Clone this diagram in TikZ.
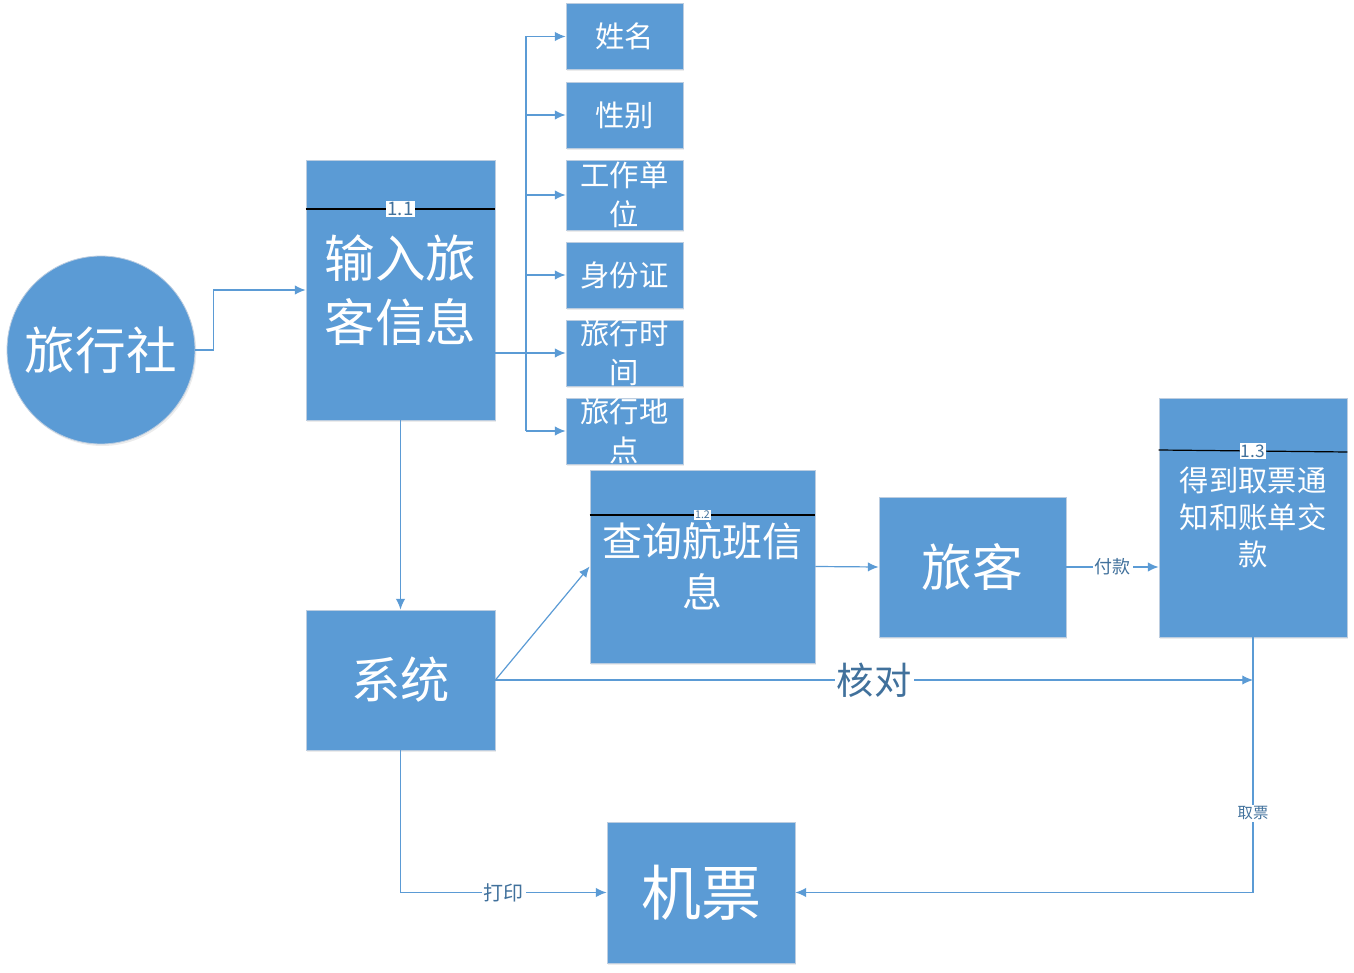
\documentclass[tikz,border=0pt]{standalone}
\usepackage{fontspec}
\setmainfont{Noto Sans CJK SC}
\usepackage{tikz}
\usetikzlibrary{arrows.meta,positioning,calc,shadows}
\definecolor{boxblue}{HTML}{5B9BD5}
\definecolor{rimgray}{HTML}{BCCDE0}
\definecolor{labelblue}{HTML}{41719C}
\begin{document}
\begin{tikzpicture}[x=0.75pt,y=-0.75pt,>={Latex[length=8pt,width=7pt]}]
\tikzset{blk/.style={draw=rimgray,fill=boxblue,text=white,align=center,inner sep=0pt,line width=0.6pt,
    drop shadow={opacity=0.15,shadow xshift=1pt,shadow yshift=-1.5pt}},
  attr/.style={blk,minimum width=87.75pt,minimum height=49.5pt,font=\fontsize{22}{29}\selectfont},
  flow/.style={->,draw=boxblue,line width=0.9pt},
  link/.style={draw=boxblue,line width=0.9pt},
  tag/.style={fill=white,text=labelblue,inner sep=1pt},
  say/.style={fill=white,text=labelblue,inner sep=1.5pt}}
\useasboundingbox (0,0) rectangle (1354,973);
% entities and processes
\node[blk,circle,minimum size=141pt,font=\fontsize{38}{40}\selectfont] (agency) at (101,350) {旅行社};
\node[blk,minimum width=141.75pt,minimum height=195pt,font=\fontsize{38}{48}\selectfont] (in11) at (400.5,290) {输入旅\\客信息};
\node[attr] (name) at (624.5,36.5) {姓名};
\node[attr] (sex) at (624.5,115) {性别};
\node[attr,minimum height=52.5pt] (work) at (624.5,195) {工作单\\位};
\node[attr] (id) at (624.5,275) {身份证};
\node[attr] (time) at (624.5,353) {旅行时\\间};
\node[attr] (loc) at (624.5,431) {旅行地\\点};
\node[blk,minimum width=168.75pt,minimum height=144.75pt,font=\fontsize{30}{38}\selectfont] (q12) at (702.5,566.5) {查询航班信\\息};
\node[blk,minimum width=140.25pt,minimum height=105pt,font=\fontsize{38}{40}\selectfont] (trav) at (972.5,567) {旅客};
\node[blk,minimum width=141pt,minimum height=179.25pt,font=\fontsize{22}{28}\selectfont] (p13) at (1253,517.5) {得到取票通\\知和账单交\\款};
\node[blk,minimum width=141.75pt,minimum height=105pt,font=\fontsize{37}{40}\selectfont] (sys) at (400.5,680) {系统};
\node[blk,minimum width=141pt,minimum height=105.75pt,font=\fontsize{45}{48}\selectfont] (tkt) at (701,892.5) {机票};
% numbered bars
\draw[black,line width=0.9pt] (in11.west |- 0,209) -- (in11.east |- 0,209) node[midway,tag,font=\fontsize{14}{14}\selectfont] {1.1};
\draw[black,line width=0.9pt] (q12.west |- 0,515) -- (q12.east |- 0,515) node[midway,tag,font=\fontsize{8}{8}\selectfont] {1.2};
\draw[black,line width=0.9pt] (p13.west |- 0,450) -- (p13.east |- 0,452) node[midway,tag,font=\fontsize{13}{13}\selectfont] {1.3};
% connectors
\coordinate (bus) at (526,0);
\draw[flow] (agency.east) -- ++(18,0) |- (in11.west);
\draw[flow] (in11.east |- time.west) -- (time.west);
\draw[link] (bus |- name.west) -- (bus |- loc.west);
\foreach \n in {name,sex,work,id,loc}{\draw[flow] (bus |- \n.west) -- (\n.west);}
\draw[flow] (in11.south) -- (sys.north);
\draw[flow] (sys.east) -- (q12.west);
\draw[flow] (sys.east) -- node[say,font=\fontsize{28}{28}\selectfont] {核对} (p13.south |- sys.east);
\draw[flow] (q12.east) -- (trav.west);
\draw[flow] (trav.east) -- node[say,font=\fontsize{13.5}{13.5}\selectfont] {付款} (p13.west |- trav.east);
\draw[flow] (p13.south) -- node[pos=.69,say,font=\fontsize{11.5}{11.5}\selectfont] {取票} (p13.south |- tkt.east) -- (tkt.east);
\draw[flow] (sys.south) -- (sys.south |- tkt.west) -- node[say,font=\fontsize{15}{15}\selectfont] {打印} (tkt.west);
\end{tikzpicture}
\end{document}
